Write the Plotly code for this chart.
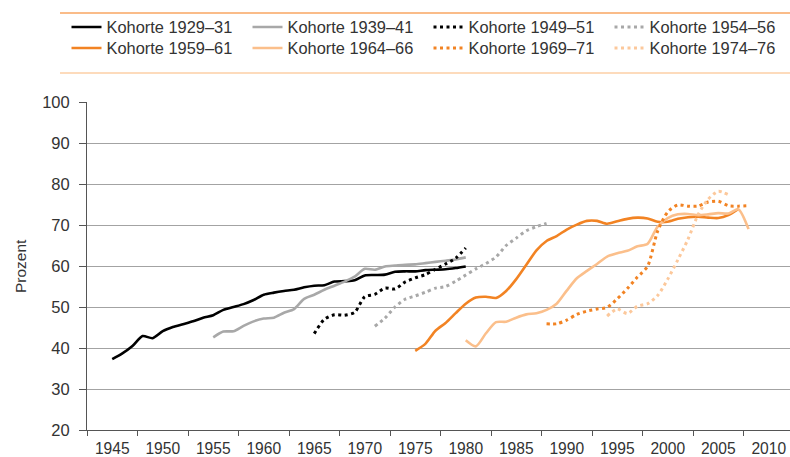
import plotly.graph_objects as go

# ---- data ----
names = ["Kohorte 1929–31", "Kohorte 1939–41", "Kohorte 1949–51", "Kohorte 1954–56",
         "Kohorte 1959–61", "Kohorte 1964–66", "Kohorte 1969–71", "Kohorte 1974–76"]

years_1929 = list(range(1945, 1981))
vals_1929 = [37.3, 38.7, 40.5, 42.9, 42.4, 44.1, 45.1, 45.8, 46.5, 47.4, 48.0, 49.3,
             50.0, 50.7, 51.7, 53.0, 53.5, 53.9, 54.2, 54.8, 55.2, 55.3, 56.2, 56.3,
             56.5, 57.7, 57.8, 57.9, 58.6, 58.7, 58.7, 59.0, 59.1, 59.2, 59.5, 59.9]

years_1939 = list(range(1955, 1981))
vals_1939 = [42.6, 44.0, 44.1, 45.4, 46.5, 47.2, 47.4, 48.6, 49.5, 52.0, 53.0, 54.2,
             55.2, 56.2, 57.4, 59.3, 59.1, 59.9, 60.1, 60.3, 60.4, 60.7, 61.0, 61.3,
             61.6, 62.1]

years_1949 = list(range(1965, 1981))
vals_1949 = [43.5, 47.0, 48.1, 48.0, 48.7, 52.5, 53.1, 54.6, 54.4, 56.1, 57.1, 57.9,
             59.2, 60.5, 61.9, 64.4]

years_1954 = list(range(1971, 1989))
vals_1954 = [45.3, 47.3, 50.0, 51.9, 52.7, 53.6, 54.6, 55.0, 56.3, 57.8, 59.3, 60.6,
             62.2, 65.0, 66.8, 68.6, 69.6, 70.4]

years_1959 = list(range(1975, 2008))
vals_1959 = [39.3, 41.0, 44.2, 46.1, 48.5, 50.8, 52.3, 52.5, 52.2, 53.9, 56.8, 60.3,
             63.8, 66.1, 67.3, 68.9, 70.1, 71.0, 71.0, 70.3, 70.9, 71.5, 71.8, 71.6,
             70.8, 70.8, 71.5, 71.9, 72.0, 71.8, 71.7, 72.4, 73.9]

years_1964 = list(range(1980, 2009))
vals_1964 = [41.9, 40.4, 43.6, 46.3, 46.4, 47.4, 48.2, 48.5, 49.3, 50.8, 54.0, 57.0,
             58.8, 60.5, 62.3, 63.1, 63.7, 64.8, 65.4, 69.6, 71.7, 72.6, 72.7, 72.4,
             72.6, 72.9, 72.8, 73.8, 69.0]

years_1969 = list(range(1988, 2009))
vals_1969 = [45.9, 45.9, 46.8, 48.2, 49.0, 49.5, 49.9, 52.0, 54.5, 57.3, 59.9, 68.5,
             73.2, 74.9, 74.6, 74.6, 75.6, 75.8, 74.7, 74.6, 74.7]

years_1974 = list(range(1994, 2007))
vals_1974 = [47.8, 49.5, 48.4, 50.2, 50.8, 52.8, 56.8, 61.5, 66.5, 72.5, 76.3, 78.2,
             77.4]

tick_years = list(range(1945, 2011, 5))
tick_labels = [str(y) for y in tick_years]
y_ticks = list(range(20, 101, 10))

# ---- styles ----
BLACK = "#000000"
GRAY = "#a8a8a8"
ORANGE = "#f28323"
LIGHT = "#fbbf8b"
LIGHT_DOT = "#fcc89b"
DOT = "3px,3.5px"

series = [
    (years_1929, vals_1929, BLACK, "solid", 2.6),
    (years_1939, vals_1939, GRAY, "solid", 2.6),
    (years_1949, vals_1949, BLACK, DOT, 3),
    (years_1954, vals_1954, GRAY, DOT, 3),
    (years_1959, vals_1959, ORANGE, "solid", 2.6),
    (years_1964, vals_1964, LIGHT, "solid", 2.6),
    (years_1969, vals_1969, ORANGE, DOT, 3),
    (years_1974, vals_1974, LIGHT_DOT, DOT, 3),
]

FONT = "Liberation Sans, Arial, Helvetica, sans-serif"
TXT = "#333333"

fig = go.Figure()
for i, (name, (xs, ys, col, dash, w)) in enumerate(zip(names, series)):
    fig.add_trace(go.Scatter(
        x=xs, y=ys, name=name, mode="lines",
        line=dict(color=col, width=w, dash=dash, shape="spline", smoothing=0.7),
        hoverinfo="skip",
        legend="legend" if i < 4 else "legend2",
    ))

W, H = 790, 457
L, R, T, B = 87, 0, 102, 27
pw = W - L - R
ph = H - T - B

def px_x(p):
    return (p - L) / pw

def px_y(p):
    return (H - B - p) / ph

LEG_FONT = 16.4
row_h = LEG_FONT * 1.3 + 3

def legend_at(center_y):
    return dict(
        orientation="h", x=px_x(66.5), xanchor="left",
        y=px_y(center_y - 5 - row_h / 2), yanchor="top",
        entrywidth=136, entrywidthmode="pixels",
        font=dict(family=FONT, size=LEG_FONT, color=TXT),
        bgcolor="rgba(0,0,0,0)", borderwidth=0,
        traceorder="normal",
    )

fig.update_layout(
    width=W, height=H,
    margin=dict(l=L, r=R, t=T, b=B, pad=0, autoexpand=False),
    paper_bgcolor="white", plot_bgcolor="white",
    font=dict(family=FONT, size=15.5, color=TXT),
    showlegend=True,
    legend=legend_at(27),
    legend2=legend_at(48),
    xaxis=dict(
        range=[1942.5, 1942.5 + pw / 10.1],
        tickmode="array", tickvals=tick_years, ticktext=tick_labels,
        ticks="", ticklabelstandoff=4,
        showgrid=False, zeroline=False,
        showline=True, linecolor="#555555", linewidth=1,
        minor=dict(tickmode="array", tickvals=[1942.5 + 5 * k for k in range(14)],
                   ticks="outside", ticklen=5, tickwidth=1, tickcolor="#555555",
                   showgrid=False),
        tickfont=dict(family=FONT, size=15.6, color=TXT),
    ),
    yaxis=dict(
        range=[20, 100], tickmode="array", tickvals=y_ticks,
        ticks="outside", ticklen=7, tickwidth=1, tickcolor="#555555",
        ticklabelstandoff=6,
        showgrid=True, gridcolor="#a3a3a3", gridwidth=1,
        zeroline=False, showline=True, linecolor="#555555", linewidth=1,
        tickfont=dict(family=FONT, size=16.5, color=TXT),
    ),
    annotations=[dict(
        text="Prozent", xref="paper", yref="paper", x=px_x(20), y=0.5,
        xanchor="center", yanchor="middle", textangle=-90, showarrow=False,
        font=dict(family=FONT, size=15.5, color=TXT),
    )],
    shapes=[
        dict(type="line", xref="paper", yref="paper", x0=px_x(60), x1=1.0,
             y0=px_y(13), y1=px_y(13), line=dict(color="#f8a662", width=1.5)),
        dict(type="line", xref="paper", yref="paper", x0=px_x(60), x1=1.0,
             y0=px_y(73), y1=px_y(73), line=dict(color="#fccfa6", width=1.5)),
    ],
)

# remove the browser's default 8px page margin so the figure fills the window
fig.write_html("out.html",
               config={"displayModeBar": False},
               post_script="document.body.style.margin='0';"
                           "document.body.style.overflow='hidden';")
